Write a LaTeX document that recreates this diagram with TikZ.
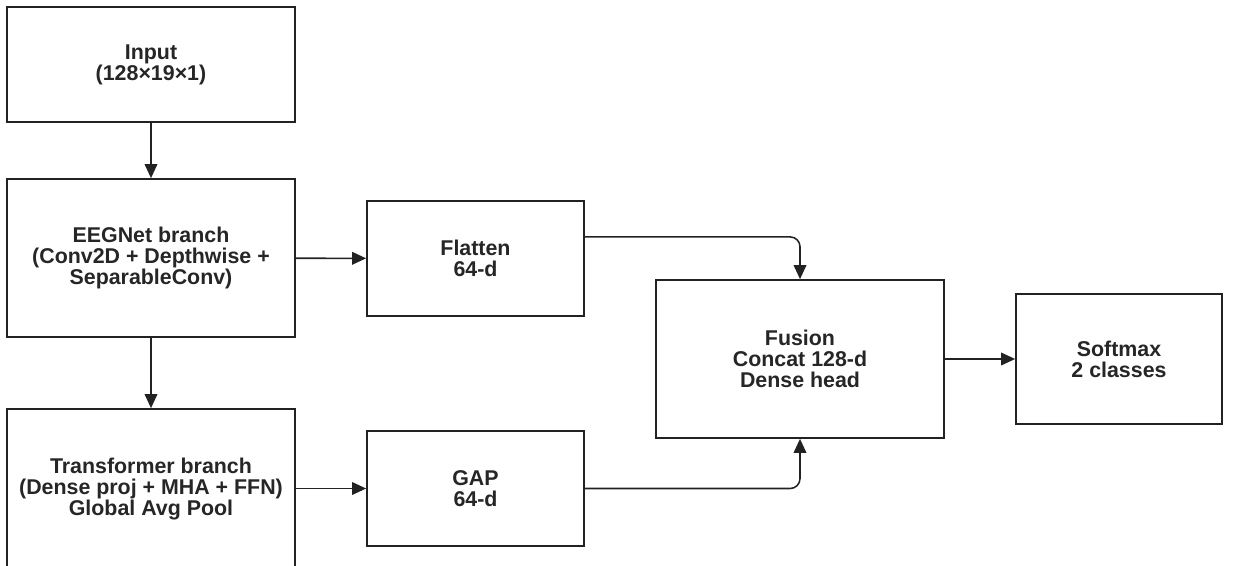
\documentclass[tikz,border=0pt]{standalone}
\usepackage{fontspec}
\setmainfont{Liberation Sans}
\usepackage{xcolor}
\usepackage{tikz}
\usetikzlibrary{arrows.meta}
\definecolor{boxLine}{HTML}{222222}
\definecolor{boxText}{HTML}{262626}

\tikzset{
  block/.style={draw=boxLine, line width=1.2pt, fill=white, align=center,
    text=boxText, font=\fontsize{15.2}{15}\selectfont\bfseries, inner sep=2pt},
  flow/.style={draw=boxLine, line width=1.1pt,
    -{Triangle[length=10pt,width=9pt]}}
}

\begin{document}
\begin{tikzpicture}[x=0.025cm, y=-0.025cm]
  % Page frame (pixel grid of the figure)
  \useasboundingbox (0,0) rectangle (1233,565);

  % Left column
  \node[block, minimum width=7.2cm, minimum height=2.875cm] (input) at (151,64.5)
    {Input\\(128×19×1)};
  \node[block, minimum width=7.2cm, minimum height=3.95cm] (eegnet) at (151,258)
    {EEGNet branch\\(Conv2D + Depthwise +\\SeparableConv)};
  \node[block, minimum width=7.2cm, minimum height=4cm] (transf) at (151,489)
    {Transformer branch\\(Dense proj + MHA + FFN)\\Global Avg Pool};

  % Middle column
  \node[block, minimum width=5.425cm, minimum height=2.875cm] (flatten) at (475.5,258.5)
    {Flatten\\64-d};
  \node[block, minimum width=5.425cm, minimum height=2.875cm] (gap) at (475.5,488.5)
    {GAP\\64-d};

  % Fusion and output
  \node[block, minimum width=7.2cm, minimum height=3.95cm] (fusion) at (800,359)
    {Fusion\\Concat 128-d\\Dense head};
  \node[block, minimum width=5.15cm, minimum height=3.25cm] (softmax) at (1119,359)
    {Softmax\\2 classes};

  % Connectors
  \draw[flow] (input) -- (eegnet);
  \draw[flow] (eegnet) -- (transf);
  \draw[flow] (eegnet) -- (flatten);
  \draw[flow] (transf.east |- gap.west) -- (gap.west);
  \draw[flow, rounded corners=7pt] ([yshift=0.54cm]flatten.east) -| (fusion.north);
  \draw[flow, rounded corners=7pt] (gap.east) -| (fusion.south);
  \draw[flow] (fusion) -- (softmax);
\end{tikzpicture}
\end{document}
